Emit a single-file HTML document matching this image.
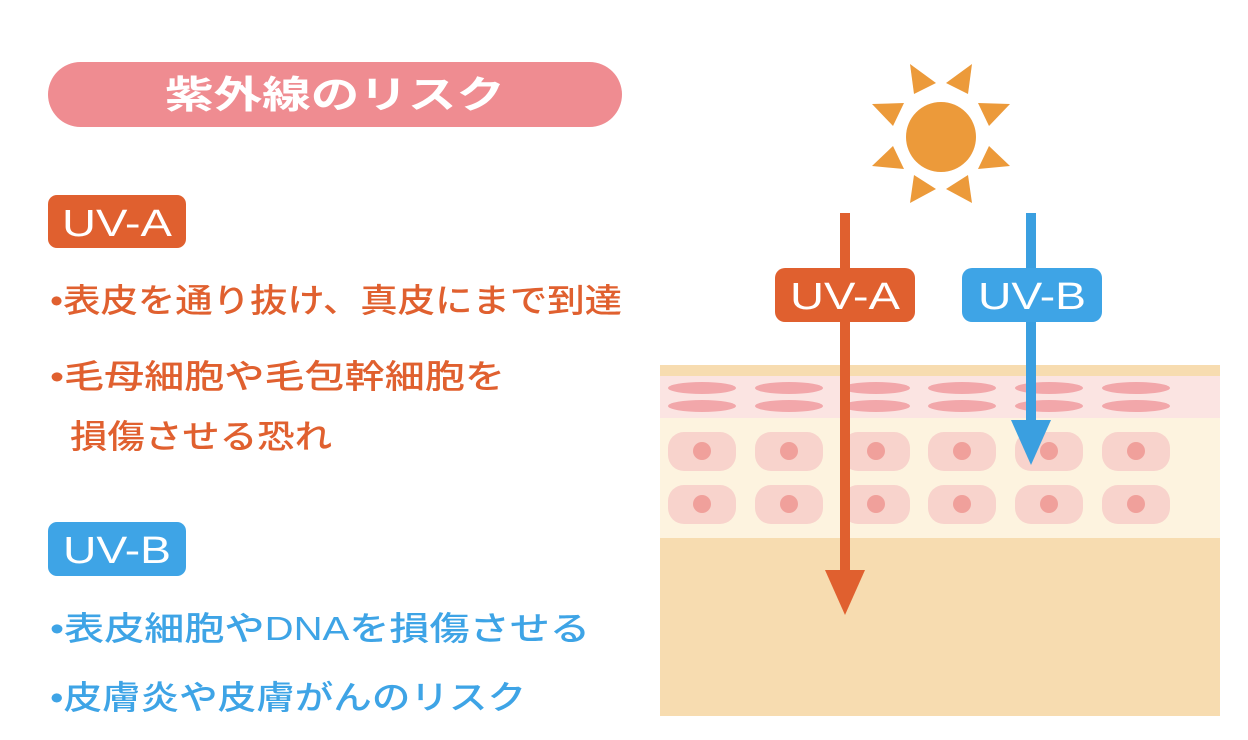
<!DOCTYPE html>
<html><head><meta charset="utf-8"><style>
html,body{margin:0;padding:0;background:#fff;}
svg{display:block;}
text{font-family:"Liberation Sans","Noto Sans CJK JP",sans-serif;}
</style></head><body>
<svg width="1248" height="740" viewBox="0 0 1248 740" xmlns="http://www.w3.org/2000/svg">
<rect width="1248" height="740" fill="#fff"/>
<rect x="48" y="62" width="574" height="65" rx="32.5" fill="#ef8c91"/>
<text x="335" y="108" font-size="38" font-weight="bold" fill="#fff" text-anchor="middle" textLength="340" lengthAdjust="spacingAndGlyphs">紫外線のリスク</text>
<rect x="48" y="195" width="138" height="53" rx="9" fill="#e0602f"/>
<text x="117" y="236" font-size="38" fill="#fff" text-anchor="middle" textLength="110" lengthAdjust="spacingAndGlyphs">UV-A</text>
<g fill="#e0602f" font-size="33" font-weight="500">
<text x="50" y="312" textLength="572" lengthAdjust="spacingAndGlyphs">•表皮を通り抜け、真皮にまで到達</text>
<text x="50" y="388" textLength="455" lengthAdjust="spacingAndGlyphs">•毛母細胞や毛包幹細胞を</text>
<text x="70" y="448" textLength="262" lengthAdjust="spacingAndGlyphs">損傷させる恐れ</text>
</g>
<rect x="48" y="522" width="138" height="54" rx="9" fill="#3ea4e6"/>
<text x="117" y="563" font-size="38" fill="#fff" text-anchor="middle" textLength="108" lengthAdjust="spacingAndGlyphs">UV-B</text>
<g fill="#3ea4e6" font-size="33" font-weight="500">
<text x="50" y="640" textLength="540" lengthAdjust="spacingAndGlyphs">•表皮細胞やDNAを損傷させる</text>
<text x="50" y="709" textLength="476" lengthAdjust="spacingAndGlyphs">•皮膚炎や皮膚がんのリスク</text>
</g>
<rect x="660" y="365" width="560" height="351" fill="#f7dcb0"/>
<rect x="660" y="376" width="560" height="42" fill="#fbe4e2"/>
<rect x="660" y="418" width="560" height="120" fill="#fdf3df"/>
<g fill="#f2a7aa">
<ellipse cx="702" cy="388" rx="34" ry="6"/><ellipse cx="702" cy="406" rx="34" ry="6"/>
<ellipse cx="789" cy="388" rx="34" ry="6"/><ellipse cx="789" cy="406" rx="34" ry="6"/>
<ellipse cx="876" cy="388" rx="34" ry="6"/><ellipse cx="876" cy="406" rx="34" ry="6"/>
<ellipse cx="962" cy="388" rx="34" ry="6"/><ellipse cx="962" cy="406" rx="34" ry="6"/>
<ellipse cx="1049" cy="388" rx="34" ry="6"/><ellipse cx="1049" cy="406" rx="34" ry="6"/>
<ellipse cx="1136" cy="388" rx="34" ry="6"/><ellipse cx="1136" cy="406" rx="34" ry="6"/>
</g>
<g fill="#f8d3cc">
<rect x="668" y="432" width="68" height="39" rx="16"/><rect x="755" y="432" width="68" height="39" rx="16"/>
<rect x="842" y="432" width="68" height="39" rx="16"/><rect x="928" y="432" width="68" height="39" rx="16"/>
<rect x="1015" y="432" width="68" height="39" rx="16"/><rect x="1102" y="432" width="68" height="39" rx="16"/>
<rect x="668" y="485" width="68" height="39" rx="16"/><rect x="755" y="485" width="68" height="39" rx="16"/>
<rect x="842" y="485" width="68" height="39" rx="16"/><rect x="928" y="485" width="68" height="39" rx="16"/>
<rect x="1015" y="485" width="68" height="39" rx="16"/><rect x="1102" y="485" width="68" height="39" rx="16"/>
</g>
<g fill="#f0a09b">
<circle cx="702" cy="451" r="9"/><circle cx="789" cy="451" r="9"/><circle cx="876" cy="451" r="9"/><circle cx="962" cy="451" r="9"/><circle cx="1049" cy="451" r="9"/><circle cx="1136" cy="451" r="9"/>
<circle cx="702" cy="504" r="9"/><circle cx="789" cy="504" r="9"/><circle cx="876" cy="504" r="9"/><circle cx="962" cy="504" r="9"/><circle cx="1049" cy="504" r="9"/><circle cx="1136" cy="504" r="9"/>
</g>
<g fill="#ec9a3a">
<circle cx="941" cy="137" r="35"/>
<polygon points="910,64 936,83 914,94"/>
<polygon points="972,64 946,83 968,94"/>
<polygon points="872,104 904,103 893,126"/>
<polygon points="1010,104 978,103 989,126"/>
<polygon points="872,166 893,146 904,169"/>
<polygon points="1010,166 989,146 978,169"/>
<polygon points="910,203 914,175 936,189"/>
<polygon points="972,203 968,175 946,189"/>
</g>
<rect x="840" y="213" width="10" height="362" fill="#e0602f"/>
<polygon points="825,570 865,570 845,615" fill="#e0602f"/>
<rect x="1026" y="213" width="10" height="212" fill="#3a9fe0"/>
<polygon points="1011,420 1051,420 1031,465" fill="#3a9fe0"/>
<rect x="775" y="268" width="140" height="54" rx="10" fill="#e0602f"/>
<text x="845" y="309" font-size="38" fill="#fff" text-anchor="middle" textLength="110" lengthAdjust="spacingAndGlyphs">UV-A</text>
<rect x="962" y="268" width="140" height="54" rx="10" fill="#3ea4e6"/>
<text x="1032" y="309" font-size="38" fill="#fff" text-anchor="middle" textLength="108" lengthAdjust="spacingAndGlyphs">UV-B</text>
</svg>
</body></html>
